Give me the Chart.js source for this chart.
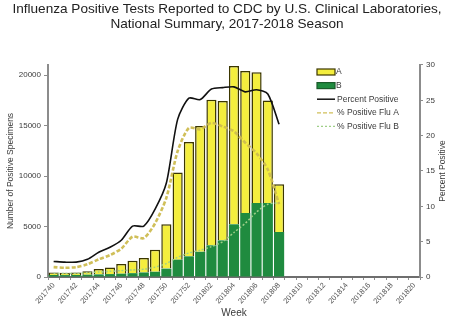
<!DOCTYPE html>
<html>
<head>
<meta charset="utf-8">
<script src="https://cdn.jsdelivr.net/npm/chart.js@4"></script>
<style>
  html, body { margin: 0; padding: 0; background: #fff; }
  #c { display: block; }
</style>
</head>
<body>
<canvas id="c" width="460" height="331"></canvas>
<script>
// Surveillance weeks, 2017 week 40 through 2018 week 20
const weeks = [
  '201740','201741','201742','201743','201744','201745','201746','201747','201748','201749',
  '201750','201751','201752','201801','201802','201803','201804','201805','201806','201807',
  '201808','201809','201810','201811','201812','201813','201814','201815','201816','201817',
  '201818','201819','201820'
];

// Positive specimens by virus type (weeks reported so far)
const fluA = [240, 240, 250, 330, 540, 660, 960, 1240, 1430, 2190, 4390, 8620, 11320, 12450, 14420, 13790, 15680, 14060, 12940, 10160, 4720];
const fluB = [200, 190, 200, 230, 260, 290, 330, 380, 450, 520, 830, 1720, 2050, 2500, 3140, 3630, 5220, 6340, 7330, 7330, 4460];

// Percent of specimens testing positive
const pctPositive = [2.2, 2.1, 2.1, 2.5, 3.5, 4.2, 5.2, 7.2, 7.2, 9.6, 13.3, 22.3, 25.3, 25.1, 26.6, 26.8, 26.9, 26.2, 26.5, 25.9, 21.6];
const pctFluA = [1.4, 1.3, 1.4, 1.8, 2.5, 3.1, 4.0, 5.7, 5.5, 7.6, 11.2, 17.8, 21.1, 20.9, 21.8, 21.3, 20.6, 19.0, 17.5, 15.2, 10.3];
const pctFluB = [0.5, 0.5, 0.5, 0.6, 0.7, 0.8, 0.9, 1.0, 1.1, 1.4, 1.9, 2.8, 3.4, 3.8, 4.3, 5.0, 6.3, 7.6, 9.2, 10.3, 10.5];

const countTicks = [0, 5000, 10000, 15000, 20000];
const FONT = '"Liberation Sans", Arial, sans-serif';
const AXIS_GREY = '#8c8c8c';
const TEXT_GREY = '#3a3a3a';
const RIGHT_TITLE = 'Percent Positive';

const COLORS = {
  a: '#f4ee3e', aEdge: '#3b3600',
  b: '#1f8b3f',
  pct: '#111111',
  pctA: 'rgba(205,188,80,0.95)',
  pctB: '#9fcf88'
};

// Legend drawn inside the plot area, upper right
const insideLegend = {
  id: 'insideLegend',
  afterDraw(chart) {
    const ctx = chart.ctx;
    const x0 = 317, y0 = 72, gap = 13.6;
    const items = [
      { ds: 1, kind: 'box', fill: COLORS.a, edge: COLORS.aEdge },
      { ds: 0, kind: 'box', fill: COLORS.b, edge: '#1a5a2a' },
      { ds: 2, kind: 'line' },
      { ds: 3, kind: 'line' },
      { ds: 4, kind: 'line' }
    ];
    ctx.save();
    ctx.font = '8.5px ' + FONT;
    ctx.textBaseline = 'middle';
    items.forEach((it, i) => {
      const d = chart.data.datasets[it.ds];
      const y = y0 + i * gap;
      if (it.kind === 'box') {
        ctx.fillStyle = it.fill;
        ctx.fillRect(x0, y - 3, 18, 6);
        ctx.strokeStyle = it.edge;
        ctx.lineWidth = 1.2;
        ctx.strokeRect(x0, y - 3, 18, 6);
        ctx.fillStyle = TEXT_GREY;
        ctx.fillText(d.label, x0 + 19, y);
      } else {
        ctx.strokeStyle = d.borderColor;
        ctx.lineWidth = it.ds === 2 ? 1.5 : 1.2;
        ctx.setLineDash(d.borderDash || []);
        ctx.beginPath();
        ctx.moveTo(x0, y);
        ctx.lineTo(x0 + 18, y);
        ctx.stroke();
        ctx.setLineDash([]);
        ctx.fillStyle = TEXT_GREY;
        ctx.fillText(d.label, x0 + 20, y);
      }
    });
    ctx.restore();
  }
};

// Right-axis title, reading bottom to top like the left one
const rightAxisTitle = {
  id: 'rightAxisTitle',
  afterDraw(chart) {
    const ctx = chart.ctx;
    const a = chart.chartArea;
    ctx.save();
    ctx.translate(a.right + 23, (a.top + a.bottom) / 2);
    ctx.rotate(-Math.PI / 2);
    ctx.font = '8.5px ' + FONT;
    ctx.fillStyle = TEXT_GREY;
    ctx.textAlign = 'center';
    ctx.textBaseline = 'middle';
    ctx.fillText(RIGHT_TITLE, 0, 0);
    ctx.restore();
  }
};

new Chart(document.getElementById('c'), {
  data: {
    labels: weeks,
    datasets: [
      {
        type: 'bar', label: 'B', data: fluB, yAxisID: 'y', order: 2,
        backgroundColor: COLORS.b, borderWidth: 0,
        barPercentage: 0.9, categoryPercentage: 1
      },
      {
        type: 'bar', label: 'A', data: fluA, yAxisID: 'y', order: 2,
        backgroundColor: COLORS.a, borderColor: COLORS.aEdge, borderWidth: 1.5,
        barPercentage: 0.9, categoryPercentage: 1
      },
      {
        type: 'line', label: 'Percent Positive', data: pctPositive, yAxisID: 'y1', order: 1,
        borderColor: COLORS.pct, borderWidth: 1.6, pointRadius: 0, tension: 0.25, fill: false
      },
      {
        type: 'line', label: '% Positive Flu A', data: pctFluA, yAxisID: 'y1', order: 1,
        borderColor: COLORS.pctA, borderWidth: 2.6, borderDash: [4, 2], pointRadius: 0, tension: 0.25, fill: false
      },
      {
        type: 'line', label: '% Positive Flu B', data: pctFluB, yAxisID: 'y1', order: 1,
        borderColor: COLORS.pctB, borderWidth: 1.5, borderDash: [2, 2], pointRadius: 0, tension: 0.25, fill: false
      }
    ]
  },
  options: {
    responsive: false,
    animation: false,
    devicePixelRatio: 1,
    layout: { padding: { left: 4, right: 10, top: 0, bottom: 8 } },
    plugins: {
      legend: { display: false },
      tooltip: { enabled: false },
      title: {
        display: true,
        text: ['Influenza Positive Tests Reported to CDC by U.S. Clinical Laboratories,',
               'National Summary, 2017-2018 Season'],
        color: '#222',
        font: { family: FONT, size: 13.6, weight: 'normal', lineHeight: 1.15 },
        padding: { top: 1, bottom: 32.7 }
      }
    },
    scales: {
      x: {
        stacked: true,
        offset: true,
        grid: { display: true, drawOnChartArea: false, drawTicks: true, tickLength: 3, color: AXIS_GREY, offset: true },
        border: { display: true, color: '#6e6e6e', width: 2 },
        ticks: {
          autoSkip: false, maxRotation: 48, minRotation: 48, padding: 1,
          color: '#555', font: { family: FONT, size: 7.5 },
          callback: function (v, i) { return i % 2 === 0 ? this.getLabelForValue(v) : ''; }
        },
        title: { display: true, text: 'Week', color: TEXT_GREY, font: { family: FONT, size: 10 }, padding: { top: 0, bottom: 4 } },
        afterFit: s => { s.height = 46; }
      },
      y: {
        stacked: true,
        position: 'left',
        min: 0, max: 21000,
        afterBuildTicks: s => { s.ticks = countTicks.map(v => ({ value: v })); },
        grid: { drawOnChartArea: false, drawTicks: true, tickLength: 4, color: AXIS_GREY },
        border: { display: true, color: AXIS_GREY, width: 2 },
        ticks: { color: TEXT_GREY, padding: 3, font: { family: FONT, size: 8 }, callback: v => String(v) },
        title: { display: true, text: 'Number of Positive Specimens', color: TEXT_GREY, font: { family: FONT, size: 8.5 }, padding: { top: 2, bottom: 0 } },
        afterFit: s => { s.width = 44; }
      },
      y1: {
        position: 'right',
        min: 0, max: 30,
        ticks: { stepSize: 5, color: TEXT_GREY, padding: 3, font: { family: FONT, size: 8 } },
        grid: { drawOnChartArea: false, drawTicks: true, tickLength: 3, color: AXIS_GREY },
        border: { display: true, color: AXIS_GREY, width: 2 },
        title: { display: false },
        afterFit: s => { s.width = 30; }
      }
    }
  },
  plugins: [insideLegend, rightAxisTitle]
});
</script>
</body>
</html>
